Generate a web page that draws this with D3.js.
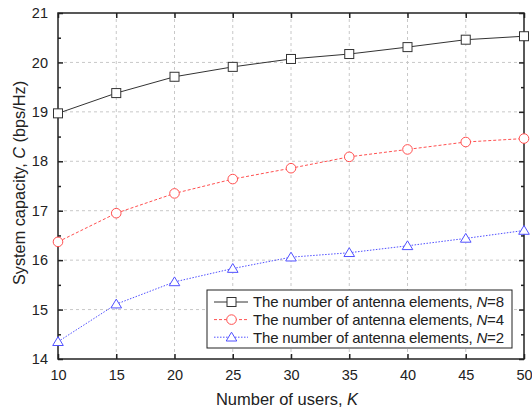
<!DOCTYPE html>
<html><head><meta charset="utf-8">
<script src="https://cdn.jsdelivr.net/npm/d3@7"></script>
<style>body{margin:0;background:#fff}svg{display:block}</style>
</head><body><svg id="c" width="532" height="410"></svg>
<script>
const users = [10,15,20,25,30,35,40,45,50];
const capN8 = [18.97,19.38,19.71,19.91,20.07,20.17,20.31,20.46,20.53];
const capN4 = [16.37,16.95,17.35,17.64,17.86,18.09,18.24,18.39,18.46];
const capN2 = [14.35,15.11,15.56,15.83,16.06,16.15,16.29,16.44,16.60];
const xTicks = [10,15,20,25,30,35,40,45,50];
const yTicks = [14,15,16,17,18,19,20,21];
const yMinor = [14.5,15.5,16.5,17.5,18.5,19.5,20.5];
const seriesNames = ["8","4","2"];

const svg = d3.select("#c");
const L=58,R=524,T=13,B=359;
const x = d3.scaleLinear().domain([10,50]).range([L,R]);
const y = d3.scaleLinear().domain([14,21]).range([B,T]);
const font = "'Liberation Sans', Arial, sans-serif";

// grid
const g = svg.append("g");
g.selectAll(".gx").data(xTicks.slice(1,-1)).enter().append("line")
 .attr("x1",d=>x(d)).attr("x2",d=>x(d)).attr("y1",T).attr("y2",B)
 .attr("stroke","#c8c8c8").attr("stroke-dasharray","3,3").attr("stroke-width",1);
g.selectAll(".gy").data(yTicks.slice(1,-1)).enter().append("line")
 .attr("y1",d=>y(d)).attr("y2",d=>y(d)).attr("x1",L).attr("x2",R)
 .attr("stroke","#c8c8c8").attr("stroke-dasharray","3,3").attr("stroke-width",1);

// axes
const ax = d3.axisBottom(x).tickValues(xTicks).tickSize(-5).tickPadding(11);
const ay = d3.axisLeft(y).tickValues(yTicks).tickSize(-5).tickPadding(10).tickFormat(d3.format("d"));
svg.append("g").attr("transform",`translate(0,${B})`).call(ax);
svg.append("g").attr("transform",`translate(${L},0)`).call(ay);
svg.append("g").attr("transform",`translate(0,${T})`).call(d3.axisTop(x).tickValues(xTicks).tickSize(-5).tickFormat(""));
svg.append("g").attr("transform",`translate(${R},0)`).call(d3.axisRight(y).tickValues(yTicks).tickSize(-5).tickFormat(""));
svg.append("g").attr("transform",`translate(${L},0)`).call(d3.axisLeft(y).tickValues(yMinor).tickSize(-3).tickFormat(""));
svg.append("g").attr("transform",`translate(${R},0)`).call(d3.axisRight(y).tickValues(yMinor).tickSize(-3).tickFormat(""));
svg.selectAll(".domain").remove();
svg.selectAll(".tick line").attr("stroke","#222").attr("stroke-width",1.5);
svg.selectAll(".tick text").attr("font-family",font).attr("font-size",14.5).attr("fill","#222");
svg.append("rect").attr("x",L).attr("y",T).attr("width",R-L).attr("height",B-T)
 .attr("fill","none").attr("stroke","#222").attr("stroke-width",1.5);

// labels
svg.append("text").attr("x",287).attr("y",405).attr("text-anchor","middle")
 .attr("font-family",font).attr("font-size",16.5).attr("fill","#222")
 .html('Number of users, <tspan font-style="italic">K</tspan>');
svg.append("text").attr("transform",`translate(25,183) rotate(-90)`).attr("text-anchor","middle")
 .attr("font-family",font).attr("font-size",16.3).attr("fill","#222")
 .html('System capacity, <tspan font-style="italic">C</tspan> (bps/Hz)');

const series = [
 {vals:capN8,color:"#333",dash:null,shape:"square"},
 {vals:capN4,color:"#ff5050",dash:"3,2",shape:"circle"},
 {vals:capN2,color:"#5050ff",dash:"1.5,1.5",shape:"triangle"}
];
function marker(sel,shape,color,cx,cy){
  if(shape==="square") sel.append("rect").attr("x",cx-4.5).attr("y",cy-4.5).attr("width",9).attr("height",9)
     .attr("fill","#fff").attr("stroke",color).attr("stroke-width",1);
  else if(shape==="circle") sel.append("circle").attr("cx",cx).attr("cy",cy).attr("r",4.8)
     .attr("fill","#fff").attr("stroke",color).attr("stroke-width",1);
  else sel.append("path").attr("d",`M${cx},${cy-5}L${cx+5.3},${cy+3.8}L${cx-5.3},${cy+3.8}Z`)
     .attr("fill","#fff").attr("stroke",color).attr("stroke-width",1);
}
const line = d3.line().x((d,i)=>x(users[i])).y(d=>y(d));
series.forEach(s=>{
  svg.append("path").attr("d",line(s.vals)).attr("fill","none").attr("stroke",s.color)
    .attr("stroke-width",1).attr("stroke-dasharray",s.dash);
  const mg = svg.append("g");
  s.vals.forEach((v,i)=>marker(mg,s.shape,s.color,x(users[i]),y(v)));
});

// legend
const lg = svg.append("g");
lg.append("rect").attr("x",207).attr("y",290).attr("width",305).attr("height",58)
 .attr("fill","#fff").attr("stroke","#222").attr("stroke-width",1);
series.forEach((s,i)=>{
  const yy = 302+i*17.6;
  lg.append("line").attr("x1",214).attr("x2",248).attr("y1",yy).attr("y2",yy)
    .attr("stroke",s.color).attr("stroke-width",1).attr("stroke-dasharray",s.dash);
  marker(lg,s.shape,s.color,231.5,yy);
  lg.append("text").attr("x",253).attr("y",yy+5.3).attr("font-family",font).attr("font-size",15).attr("fill","#222")
    .attr("textLength",251).attr("lengthAdjust","spacing")
    .html(`The number of antenna elements, <tspan font-style="italic">N</tspan>=${seriesNames[i]}`);
});
</script></body></html>
